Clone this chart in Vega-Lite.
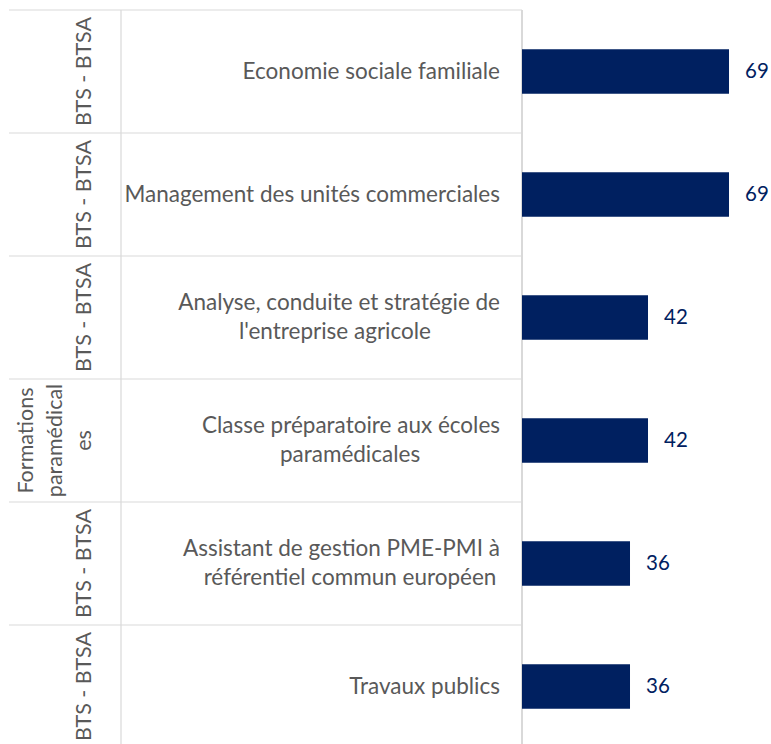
{
  "$schema": "https://vega.github.io/schema/vega-lite/v6.json",
  "padding": {"left": 8, "top": 9, "right": 0, "bottom": 0},
  "background": "white",
  "spacing": 0,
  "bounds": "flush",
  "config": {"view": {"stroke": null}, "font": "Lato"},
  "data": {"values": [
    {"formation": "Economie sociale familiale", "libelle": "Economie sociale familiale", "filiere": "BTS - BTSA", "effectif": 69},
    {"formation": "Management des unités commerciales", "libelle": "Management des unités commerciales", "filiere": "BTS - BTSA", "effectif": 69},
    {"formation": "Analyse, conduite et stratégie de l'entreprise agricole", "libelle": "Analyse, conduite et stratégie de\nl'entreprise agricole", "filiere": "BTS - BTSA", "effectif": 42},
    {"formation": "Classe préparatoire aux écoles paramédicales", "libelle": "Classe préparatoire aux écoles\nparamédicales", "filiere": "Formations\nparamédical\nes", "effectif": 42},
    {"formation": "Assistant de gestion PME-PMI à référentiel commun européen", "libelle": "Assistant de gestion PME-PMI à\nréférentiel commun européen", "filiere": "BTS - BTSA", "effectif": 36},
    {"formation": "Travaux publics", "libelle": "Travaux publics", "filiere": "BTS - BTSA", "effectif": 36}
  ]},
  "resolve": {"scale": {"y": "independent", "x": "independent"}},
  "hconcat": [
    {
      "width": 112,
      "height": 738,
      "layer": [
        {
          "mark": {"type": "rule", "color": "#d9d9d9", "strokeWidth": 1.2},
          "encoding": {"y": {"field": "formation", "type": "nominal", "sort": null, "bandPosition": 0, "axis": null, "scale": {"padding": 0}}}
        },
        {
          "data": {"values": [{}]},
          "mark": {"type": "rule", "color": "#d9d9d9", "strokeWidth": 1.2},
          "encoding": {"x": {"value": "width"}}
        },
        {
          "mark": {"type": "text", "angle": 270, "align": "center", "baseline": "bottom", "lineBreak": "\n", "lineHeight": 29, "fontSize": 21.5, "color": "#595959",
                   "dy": {"expr": "-25 - (length(split(datum.filiere, '\\n')) - 1) * 29"}},
          "encoding": {
            "y": {"field": "formation", "type": "nominal", "sort": null, "axis": null, "scale": {"padding": 0}},
            "x": {"value": "width"},
            "text": {"field": "filiere", "type": "nominal"}
          }
        }
      ]
    },
    {
      "width": 401,
      "height": 738,
      "layer": [
        {
          "mark": {"type": "rule", "color": "#d9d9d9", "strokeWidth": 1.2},
          "encoding": {"y": {"field": "formation", "type": "nominal", "sort": null, "bandPosition": 0, "axis": null, "scale": {"padding": 0}}}
        },
        {
          "data": {"values": [{}]},
          "mark": {"type": "rule", "color": "#d9d9d9", "strokeWidth": 2},
          "encoding": {"x": {"value": "width"}}
        },
        {
          "mark": {"type": "text", "align": "right", "baseline": "middle", "fontSize": 22.5, "color": "#595959", "dx": -22,
                   "text": {"expr": "split(datum.libelle, '\\n')[0]"},
                   "dy": {"expr": "-(length(split(datum.libelle, '\\n')) - 1) * 14.5"}},
          "encoding": {
            "y": {"field": "formation", "type": "nominal", "sort": null, "axis": null, "scale": {"padding": 0}},
            "x": {"value": "width"}
          }
        },
        {
          "mark": {"type": "text", "align": "center", "baseline": "middle", "fontSize": 22.5, "color": "#595959", "dy": 14.5,
                   "text": {"expr": "split(datum.libelle, '\\n')[1] || ''"},
                   "dx": {"expr": "-22 - length(split(datum.libelle, '\\n')[0]) * 5"}},
          "encoding": {
            "y": {"field": "formation", "type": "nominal", "sort": null, "axis": null, "scale": {"padding": 0}},
            "x": {"value": "width"}
          }
        }
      ]
    },
    {
      "width": 250,
      "height": 738,
      "encoding": {
        "y": {"field": "formation", "type": "nominal", "sort": null, "axis": null, "scale": {"paddingInner": 0.64, "paddingOuter": 0.32}},
        "x": {"field": "effectif", "type": "quantitative", "axis": null, "scale": {"domain": [0, 83.33], "nice": false, "zero": true}}
      },
      "layer": [
        {"mark": {"type": "bar", "color": "#002060"}},
        {
          "mark": {"type": "text", "align": "left", "baseline": "middle", "dx": 16, "fontSize": 20.5, "color": "#002060"},
          "encoding": {"text": {"field": "effectif", "type": "quantitative"}}
        }
      ]
    }
  ]
}
